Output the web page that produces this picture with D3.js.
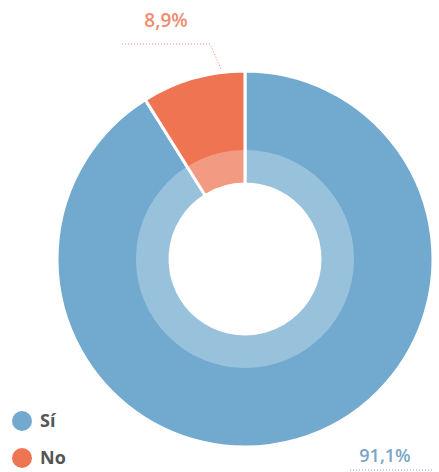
<!DOCTYPE html>
<html>
<head>
<meta charset="utf-8">
<script src="https://cdn.jsdelivr.net/npm/d3@7"></script>
<style>
  body { margin: 0; background: #fff; }
  text { font-family: "Open Sans", sans-serif; font-weight: 700; }
</style>
</head>
<body>
<div id="chart"></div>
<script>
// Data
var categories = ["Sí", "No"];
var values = [91.1, 8.9];
var labels = ["91,1%", "8,9%"];

var width = 439;
var height = 472;
var cx = 245, cy = 259;
var outerR = 188, bandR = 109, innerR = 75;

var color = d3.scaleOrdinal()
  .domain(categories)
  .range(["#71a9cf", "#ee7452"]);

var svg = d3.select("#chart")
  .append("svg")
    .attr("width", width)
    .attr("height", height);

// Pie, clockwise from top; "No" ends at 12 o'clock
var pie = d3.pie()
  .sort(null)
  .startAngle(0)
  .endAngle(2 * Math.PI)
  .value(function(d) { return d; });

var arcs = pie(values);

var arc = d3.arc()
  .innerRadius(innerR)
  .outerRadius(outerR);

var g = svg.append("g")
  .attr("transform", "translate(" + cx + "," + cy + ")");

g.selectAll("path.slice")
  .data(arcs)
  .enter().append("path")
    .attr("class", "slice")
    .attr("d", arc)
    .style("fill", function(d, i) { return color(categories[i]); })
    .style("stroke", "#fff")
    .style("stroke-width", 3);

// Lighter inner band
g.append("path")
  .attr("d", d3.arc().innerRadius(innerR).outerRadius(bandR).startAngle(0).endAngle(2 * Math.PI)())
  .style("fill", "#fff")
  .style("opacity", 0.28);

// Labels
var labelPos = [
  { x: 385, y: 462, lx1: 350, lx2: 432, ly: 470 },
  { x: 166, y: 27, lx1: 122, lx2: 210, ly: 44 }
];

svg.selectAll("text.pct")
  .data(labels)
  .enter().append("text")
    .attr("class", "pct")
    .attr("x", function(d, i) { return labelPos[i].x; })
    .attr("y", function(d, i) { return labelPos[i].y; })
    .attr("text-anchor", "middle")
    .style("font-size", function(d, i) { return i === 0 ? "18px" : "19px"; })
    .style("font-weight", 600)
    .style("fill", function(d, i) { return i === 0 ? "#7ba5c6" : "#ef8a6c"; })
    .text(function(d) { return d; });

// Dotted leader for 8,9%, ending near the right side of the slice
var a = arcs[1].startAngle + (arcs[1].endAngle - arcs[1].startAngle) * 0.78;
svg.append("polyline")
  .attr("points", [
    [labelPos[1].lx1, labelPos[1].ly],
    [labelPos[1].lx2, labelPos[1].ly],
    [cx + Math.sin(a) * (outerR + 2), cy - Math.cos(a) * (outerR + 2)]
  ].join(" "))
  .style("fill", "none")
  .style("stroke", "#ef8a6c")
  .style("stroke-width", 1)
  .style("stroke-dasharray", "1,2");

svg.append("line")
  .attr("x1", labelPos[0].lx1).attr("x2", labelPos[0].lx2)
  .attr("y1", labelPos[0].ly).attr("y2", labelPos[0].ly)
  .style("stroke", "#7ba5c6")
  .style("stroke-dasharray", "1,2");

// Legend
var legend = svg.selectAll("g.legend")
  .data(categories)
  .enter().append("g")
    .attr("class", "legend")
    .attr("transform", function(d, i) { return "translate(22," + (421 + i * 37) + ")"; });

legend.append("circle")
  .attr("r", 10)
  .style("fill", function(d) { return color(d); });

legend.append("text")
  .attr("x", 18)
  .attr("y", 6)
  .style("font-size", "18px")
  .style("fill", "#555")
  .text(function(d) { return d; });
</script>
</body>
</html>
